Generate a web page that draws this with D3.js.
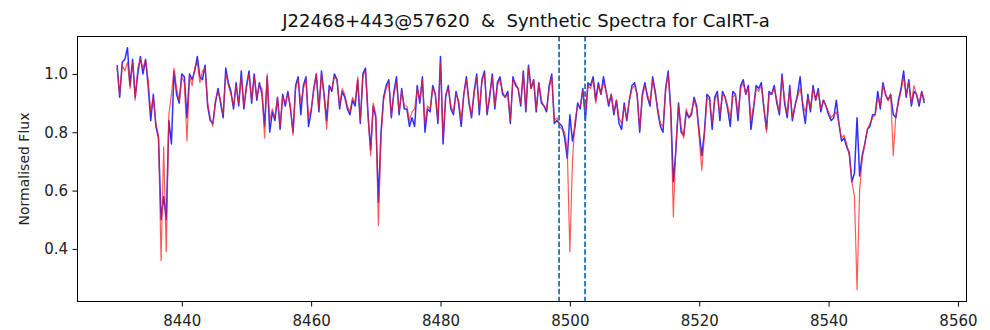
<!DOCTYPE html>
<html>
<head>
<meta charset="utf-8">
<script src="https://cdn.jsdelivr.net/npm/d3@7"></script>
<style>
  html, body { margin: 0; padding: 0; background: #fff; }
  svg { display: block; }
  text { font-family: "DejaVu Sans", sans-serif; }
</style>
</head>
<body>
<svg id="chart" width="990" height="330"></svg>
<script>
// ---- data ----
const titleText = "J22468+443@57620  &  Synthetic Spectra for CaIRT-a";
const yLabel = "Normalised Flux";
const xTicks = [8440, 8460, 8480, 8500, 8520, 8540, 8560];
const yTicks = [0.4, 0.6, 0.8, 1.0];
const markerLines = [8498.33, 8502.35];
const wlStart = 8430.0;   // first sample (Å)
const wlStep = 0.4;       // sampling step (Å)

// Observed spectrum (blue)
const observed = [
1.03,0.92,1.04,1.05,1.09,0.96,1.05,0.92,1.00,1.06,
1.00,1.05,0.96,0.84,0.93,0.82,0.78,0.50,0.58,0.50,
0.84,0.76,1.01,0.93,0.90,1.00,0.99,0.85,1.00,0.98,
1.01,1.06,0.99,0.98,1.03,0.89,0.84,0.83,0.90,0.95,
0.90,0.85,1.02,0.97,0.94,0.88,0.97,0.89,1.01,0.88,
0.96,1.01,0.90,1.00,0.91,0.97,0.93,0.82,0.99,0.80,
0.87,0.84,0.92,0.81,0.93,0.89,0.94,0.88,0.80,0.96,
0.99,0.86,0.96,0.99,0.82,0.87,0.95,1.00,0.87,1.01,
0.93,0.84,0.96,0.94,1.00,0.98,0.88,0.94,0.92,0.88,
0.86,0.91,0.89,0.98,0.83,1.00,1.02,0.86,0.74,0.89,
0.85,0.56,0.80,0.92,0.96,0.98,0.85,0.94,0.99,0.86,
0.95,0.88,0.88,0.82,0.85,0.82,0.96,0.90,0.99,0.80,
0.88,0.87,0.96,0.93,0.83,1.06,0.76,0.92,0.96,0.88,
0.86,0.94,0.90,0.82,0.93,0.99,0.90,0.85,0.94,1.00,
0.86,0.98,1.01,0.86,0.92,1.00,0.88,0.97,0.99,0.93,
0.92,0.94,0.83,0.99,0.96,0.95,0.89,1.01,0.87,1.03,
0.95,0.98,0.87,0.97,0.90,0.89,0.87,0.96,1.00,0.83,
0.84,0.83,0.82,0.78,0.71,0.86,0.77,0.82,0.90,0.88,
0.95,0.84,0.97,0.96,0.99,0.91,0.97,0.93,0.99,0.94,
0.89,0.93,0.86,0.91,0.83,0.81,0.90,0.84,0.91,0.96,
0.97,0.93,0.80,0.93,0.97,0.92,0.89,0.99,0.94,0.87,
0.82,0.80,0.95,1.01,0.88,0.63,0.74,0.90,0.80,0.79,
0.87,0.85,0.86,0.92,0.89,0.80,0.72,0.80,0.93,0.92,
0.81,0.92,0.94,0.84,0.94,0.92,0.88,0.82,0.94,0.93,
0.84,0.96,0.98,0.93,0.96,0.81,0.88,0.96,0.95,0.97,
0.88,0.81,0.94,0.93,0.96,0.90,0.86,1.00,0.90,0.85,
0.96,0.84,0.89,0.93,0.99,0.89,0.83,0.93,0.87,0.96,
0.91,0.95,0.87,0.91,0.89,0.86,0.84,0.85,0.91,0.83,
0.77,0.78,0.75,0.73,0.63,0.66,0.85,0.65,0.72,0.76,
0.81,0.82,0.86,0.86,0.94,0.88,0.97,0.93,0.91,0.93,
0.86,0.85,0.91,0.95,1.01,0.92,0.98,0.89,0.94,0.93,
0.89,0.94,0.90
];

// Synthetic spectrum (red)
const synthetic = [
1.02,0.93,1.03,1.01,1.04,0.95,1.04,0.91,1.02,1.05,
1.02,1.05,0.98,0.87,0.92,0.83,0.79,0.36,0.75,0.39,
0.86,0.93,1.02,0.95,0.91,0.99,0.97,0.77,0.99,0.96,
1.02,1.04,0.97,1.01,1.02,0.90,0.85,0.82,0.91,0.94,
0.91,0.86,1.00,0.96,0.93,0.89,0.96,0.90,0.99,0.89,
0.95,1.00,0.91,0.99,0.92,0.96,0.95,0.78,1.00,0.84,
0.88,0.85,0.92,0.82,0.92,0.90,0.93,0.89,0.79,0.95,
0.98,0.90,0.95,0.98,0.85,0.88,0.94,1.00,0.88,1.00,
0.92,0.81,0.95,0.95,0.99,0.98,0.89,0.95,0.93,0.89,
0.87,0.92,0.90,0.99,0.84,0.99,1.01,0.85,0.72,0.90,
0.86,0.48,0.78,0.91,0.95,0.97,0.86,0.93,0.97,0.87,
0.94,0.89,0.89,0.84,0.87,0.88,0.95,0.91,0.98,0.83,
0.89,0.88,0.95,0.93,0.84,1.04,0.78,0.93,0.95,0.89,
0.87,0.93,0.91,0.84,0.93,0.98,0.91,0.86,0.93,0.99,
0.88,0.97,1.00,0.87,0.93,0.99,0.89,0.96,0.98,0.94,
0.92,0.93,0.84,0.98,0.97,0.95,0.90,1.00,0.88,1.02,
0.95,0.98,0.88,0.97,0.91,0.89,0.88,0.95,0.99,0.84,
0.85,0.82,0.81,0.80,0.74,0.39,0.70,0.84,0.89,0.89,
0.94,0.87,0.96,0.95,0.98,0.90,0.96,0.93,0.97,0.94,
0.90,0.93,0.87,0.91,0.85,0.83,0.89,0.85,0.91,0.95,
0.96,0.93,0.81,0.92,0.96,0.93,0.90,0.98,0.93,0.88,
0.83,0.82,0.94,1.00,0.87,0.51,0.76,0.89,0.82,0.78,
0.88,0.85,0.87,0.91,0.88,0.78,0.67,0.79,0.92,0.91,
0.83,0.91,0.93,0.86,0.93,0.92,0.89,0.85,0.92,0.93,
0.86,0.95,0.97,0.93,0.95,0.84,0.89,0.95,0.94,0.96,
0.89,0.80,0.93,0.93,0.95,0.91,0.87,0.99,0.91,0.86,
0.95,0.85,0.89,0.92,0.95,0.90,0.87,0.92,0.88,0.95,
0.91,0.94,0.88,0.91,0.89,0.87,0.85,0.86,0.87,0.83,
0.78,0.79,0.76,0.72,0.63,0.58,0.26,0.60,0.71,0.76,
0.81,0.83,0.85,0.86,0.92,0.89,0.96,0.93,0.91,0.93,
0.72,0.86,0.90,0.94,0.99,0.93,0.97,0.90,0.96,0.93,
0.90,0.94,0.91
];

// ---- layout ----
const margin = { left: 77, top: 36, right: 23, bottom: 28 };
const W = 990, H = 330;
const svg = d3.select("#chart");

const x = d3.scaleLinear().domain([8423.8, 8561.4]).range([margin.left, W - margin.right]);
const y = d3.scaleLinear().domain([0.218, 1.130]).range([H - margin.bottom, margin.top]);

const wl = observed.map((_, i) => wlStart + i * wlStep);

svg.append("clipPath").attr("id", "plotclip")
  .append("rect")
  .attr("x", margin.left).attr("y", margin.top)
  .attr("width", W - margin.right - margin.left)
  .attr("height", H - margin.bottom - margin.top);

const line = d3.line().x(d => x(d[0])).y(d => y(d[1]));

const plot = svg.append("g").attr("clip-path", "url(#plotclip)");

plot.append("path")
  .datum(wl.map((w, i) => [w, observed[i]]))
  .attr("fill", "none")
  .attr("stroke", "#0a0aff")
  .attr("stroke-opacity", 0.85)
  .attr("stroke-width", 1.5)
  .attr("stroke-linejoin", "round")
  .attr("d", line);

plot.append("path")
  .datum(wl.map((w, i) => [w, synthetic[i]]))
  .attr("fill", "none")
  .attr("stroke", "#ff1a1a")
  .attr("stroke-opacity", 0.72)
  .attr("stroke-width", 1.2)
  .attr("stroke-linejoin", "round")
  .attr("d", line);

plot.selectAll("line.marker")
  .data(markerLines)
  .join("line")
  .attr("class", "marker")
  .attr("x1", d => x(d)).attr("x2", d => x(d))
  .attr("y1", margin.top).attr("y2", H - margin.bottom)
  .attr("stroke", "#1f77b4")
  .attr("stroke-width", 1.8)
  .attr("stroke-dasharray", "5.5,2.4");

// axes
const xAxis = d3.axisBottom(x).tickValues(xTicks).tickFormat(d3.format("d"))
  .tickSize(4.5).tickPadding(8.5);
const yAxis = d3.axisLeft(y).tickValues(yTicks).tickFormat(d3.format(".1f"))
  .tickSize(4.5).tickPadding(4.5);

const gx = svg.append("g").attr("transform", `translate(0,${H - margin.bottom})`).call(xAxis);
const gy = svg.append("g").attr("transform", `translate(${margin.left},0)`).call(yAxis);
[gx, gy].forEach(g => {
  g.select(".domain").remove();
  g.selectAll(".tick line").attr("stroke", "#000").attr("stroke-width", 1);
  g.selectAll(".tick text").attr("fill", "#222").style("font-size", "15px")
    .style("font-family", "'DejaVu Sans', sans-serif");
});

// frame
svg.append("rect")
  .attr("x", margin.left + 0.5).attr("y", margin.top + 0.5)
  .attr("width", W - margin.right - margin.left - 1)
  .attr("height", H - margin.bottom - margin.top - 1)
  .attr("fill", "none").attr("stroke", "#000").attr("stroke-width", 1);

// title
svg.append("text")
  .attr("x", (margin.left + W - margin.right) / 2 + 4)
  .attr("y", 27)
  .attr("text-anchor", "middle")
  .attr("fill", "#111")
  .style("font-size", "18px")
  .style("white-space", "pre")
  .attr("xml:space", "preserve")
  .text(titleText);

// y label
svg.append("text")
  .attr("transform", `translate(29,${(margin.top + H - margin.bottom) / 2}) rotate(-90)`)
  .attr("text-anchor", "middle")
  .attr("fill", "#222")
  .style("font-size", "14px")
  .text(yLabel);
</script>
</body>
</html>
